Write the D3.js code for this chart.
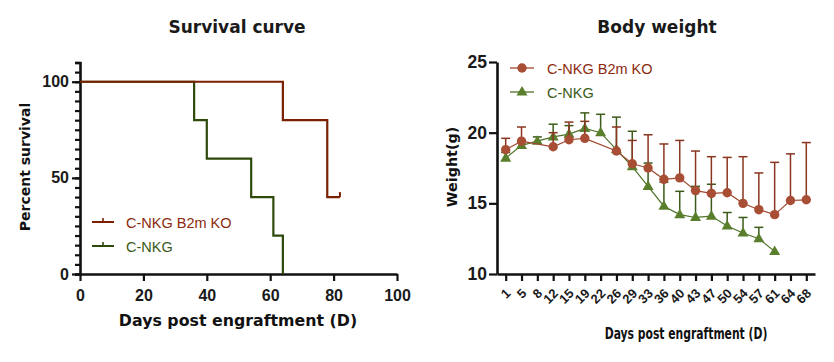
<!DOCTYPE html>
<html>
<head>
<meta charset="utf-8">
<script src="https://cdn.jsdelivr.net/npm/d3@7"></script>
<style>
  body { margin: 0; background: white; }
  svg text { font-family: "DejaVu Sans", Verdana, sans-serif; }
</style>
</head>
<body>
<div id="chart"></div>
<script>
// survival curve (Kaplan-Meier steps)
var koDays = [0, 64, 78, 82];
var koPct = [100, 80, 40, 40];
var nkgDays = [0, 36, 40, 54, 61, 64];
var nkgPct = [100, 80, 60, 40, 20, 0];
var survXTicks = [0, 20, 40, 60, 80, 100];
var survYTicks = [0, 50, 100];

// body weight, mean and SD (upper bars only)
var bwDays = ["1", "5", "8", "12", "15", "19", "22", "26", "29", "33", "36", "40", "43", "47", "50", "54", "57", "61", "64", "68"];
var koMean = [18.8, 19.4, null, 19.0, 19.5, 19.6, null, 18.7, 17.8, 17.5, 16.7, 16.8, 15.9, 15.7, 15.75, 15.0, 14.55, 14.2, 15.2, 15.25];
var koSD = [0.8, 1.0, null, 1.0, 1.25, 1.2, null, 1.7, 1.65, 2.35, 2.5, 2.65, 2.8, 2.6, 2.5, 3.3, 2.6, 3.7, 3.3, 4.05];
var nkgMean = [18.2, 19.1, 19.4, 19.7, 19.9, 20.3, 20.0, 18.8, 17.6, 16.2, 14.8, 14.2, 14.0, 14.1, 13.4, 12.9, 12.5, 11.6, null, null];
var nkgSD = [0.4, 0.3, 0.3, 0.9, 0.6, 1.1, 1.3, 2.3, 2.5, 1.65, 1.7, 1.65, 2.2, 2.25, 0.95, 1.1, 0.8, null, null, null];
var bwYTicks = [10, 15, 20, 25];

var koName = "C-NKG B2m KO", nkgName = "C-NKG";

var tickFont = "'Liberation Sans', Arial, sans-serif";

var svg = d3.select("#chart").append("svg")
  .attr("width", 834).attr("height", 362);

function styleAxis(g, fontSize) {
  g.select(".domain").attr("stroke", "#111").attr("stroke-width", 2.6);
  g.selectAll(".tick line").attr("stroke", "#111").attr("stroke-width", 2.2);
  g.selectAll(".tick text").attr("fill", "#1a1a1a")
    .style("font-family", tickFont)
    .style("font-size", fontSize + "px").style("font-weight", "bold");
}

// ---------- left: survival curve ----------
var sx = d3.scaleLinear().domain([0, 100]).range([80, 397]);
var sy = d3.scaleLinear().domain([0, 110]).range([274, 62.5]);

var left = svg.append("g");

left.append("text").attr("x", 237).attr("y", 33).attr("text-anchor", "middle")
  .style("font-size", "17px").style("font-weight", "bold").attr("fill", "#1a1a1a")
  .text("Survival curve");

// minor y ticks every 5
left.append("g").attr("transform", "translate(80,0)")
  .call(d3.axisLeft(sy).tickValues(d3.range(0, 111, 5)).tickSize(5).tickFormat(""))
  .call(function(g) { styleAxis(g, 16); });
left.append("g").attr("transform", "translate(80,0)")
  .call(d3.axisLeft(sy).tickValues(survYTicks).tickSize(8).tickPadding(3).tickSizeOuter(0))
  .call(function(g) { styleAxis(g, 16); g.select(".domain").remove(); });

left.append("g").attr("transform", "translate(0,274)")
  .call(d3.axisBottom(sx).tickValues(survXTicks).tickSize(7).tickPadding(9).tickSizeOuter(0))
  .call(function(g) { styleAxis(g, 16); });

left.append("text").attr("x", 238).attr("y", 326).attr("text-anchor", "middle")
  .style("font-size", "15.8px").style("font-weight", "bold").attr("fill", "#111")
  .text("Days post engraftment (D)");

left.append("text").attr("transform", "translate(30,167) rotate(-90)").attr("text-anchor", "middle")
  .style("font-size", "14px").style("font-weight", "bold").attr("fill", "#111")
  .text("Percent survival");

var step = d3.line().curve(d3.curveStepAfter)
  .x(function(d) { return sx(d[0]); })
  .y(function(d) { return sy(d[1]); });

var koSteps = d3.zip(koDays, koPct);
var nkgSteps = d3.zip(nkgDays, nkgPct);

left.append("path").datum(nkgSteps).attr("d", step)
  .attr("fill", "none").attr("stroke", "#2e4a0b").attr("stroke-width", 2.2);
left.append("path").datum(koSteps).attr("d", step)
  .attr("fill", "none").attr("stroke", "#7a2000").attr("stroke-width", 2.2);

// censor mark at the end of KO curve
var lastKO = koSteps[koSteps.length - 1];
left.append("line")
  .attr("x1", sx(lastKO[0])).attr("x2", sx(lastKO[0]))
  .attr("y1", sy(lastKO[1])).attr("y2", sy(lastKO[1]) - 5)
  .attr("stroke", "#7a2000").attr("stroke-width", 2);

var survLegend = [
  { name: koName, line: "#7a2000", text: "#8b2b0e" },
  { name: nkgName, line: "#2e4a0b", text: "#3a5a18" }
];
var sl = left.selectAll(".sleg").data(survLegend).enter().append("g")
  .attr("transform", function(d, i) { return "translate(92," + (222 + i * 24) + ")"; });
sl.append("line").attr("x1", 0).attr("x2", 22).attr("stroke", function(d) { return d.line; }).attr("stroke-width", 2);
sl.append("line").attr("x1", 11).attr("x2", 11).attr("y1", 0).attr("y2", -4)
  .attr("stroke", function(d) { return d.line; }).attr("stroke-width", 1.6);
sl.append("text").attr("x", 34).attr("y", 5.5)
  .style("font-family", tickFont).style("font-size", "14.5px")
  .attr("fill", function(d) { return d.text; }).text(function(d) { return d.name; });

// ---------- right: body weight ----------
var bx = d3.scalePoint().domain(bwDays).range([497, 815]).padding(0.55);
var by = d3.scaleLinear().domain([10, 25]).range([274, 62]);

var right = svg.append("g");

right.append("text").attr("x", 657).attr("y", 33).attr("text-anchor", "middle")
  .style("font-size", "17px").style("font-weight", "bold").attr("fill", "#1a1a1a")
  .text("Body weight");

right.append("g").attr("transform", "translate(497,0)")
  .call(d3.axisLeft(by).tickValues(bwYTicks).tickSize(8).tickPadding(2).tickSizeOuter(0))
  .call(function(g) { styleAxis(g, 17.5); });

right.append("g").attr("transform", "translate(0,274)")
  .call(d3.axisBottom(bx).tickSize(7).tickSizeOuter(0))
  .call(function(g) {
    styleAxis(g, 13);
    g.selectAll(".tick text")
      .attr("x", 0).attr("y", 0).attr("dy", "0.35em")
      .attr("text-anchor", "end")
      .attr("transform", "translate(2,17) rotate(-45)");
  });

// this title is horizontally squeezed in the original figure
right.append("text").attr("transform", "translate(686,339) scale(0.72,1)").attr("text-anchor", "middle")
  .style("font-size", "15px").style("font-weight", "bold").attr("fill", "#111")
  .text("Days post engraftment (D)");

right.append("text").attr("transform", "translate(457,167) rotate(-90)").attr("text-anchor", "middle")
  .style("font-size", "14.3px").style("font-weight", "bold").attr("fill", "#111")
  .text("Weight(g)");

function seriesRows(mean, sd) {
  return bwDays.map(function(d, i) { return { day: d, mean: mean[i], sd: sd[i] }; })
    .filter(function(r) { return r.mean !== null; });
}
var koRows = seriesRows(koMean, koSD);
var nkgRows = seriesRows(nkgMean, nkgSD);

var bwLine = d3.line()
  .x(function(d) { return bx(d.day); })
  .y(function(d) { return by(d.mean); });

function drawSeries(rows, lineColor, barColor, drawMarker) {
  var g = right.append("g");
  g.append("path").datum(rows).attr("d", bwLine)
    .attr("fill", "none").attr("stroke", lineColor).attr("stroke-width", 1.2);
  var bars = g.selectAll(".bar").data(rows.filter(function(r) { return r.sd !== null; }))
    .enter().append("g");
  bars.append("line")
    .attr("x1", function(d) { return bx(d.day); }).attr("x2", function(d) { return bx(d.day); })
    .attr("y1", function(d) { return by(d.mean); }).attr("y2", function(d) { return by(d.mean + d.sd); })
    .attr("stroke", barColor).attr("stroke-width", 1.5);
  bars.append("line")
    .attr("x1", function(d) { return bx(d.day) - 4.5; }).attr("x2", function(d) { return bx(d.day) + 4.5; })
    .attr("y1", function(d) { return by(d.mean + d.sd); }).attr("y2", function(d) { return by(d.mean + d.sd); })
    .attr("stroke", barColor).attr("stroke-width", 1.5);
  g.selectAll(".pt").data(rows).enter().append("g")
    .attr("transform", function(d) { return "translate(" + bx(d.day) + "," + by(d.mean) + ")"; })
    .each(function() { drawMarker(d3.select(this)); });
}

function triangle(sel) {
  sel.append("path").attr("d", "M0,-6L5.5,3.6L-5.5,3.6Z").attr("fill", "#5a7f2c");
}
function circle(sel) {
  sel.append("circle").attr("r", 4.7).attr("fill", "#a84e35");
}

drawSeries(nkgRows, "#4f7228", "#3c5a18", triangle);
drawSeries(koRows, "#a0472f", "#8a3520", circle);

var bwLegend = [
  { name: koName, line: "#a0472f", text: "#8b2b0e", marker: circle },
  { name: nkgName, line: "#4f7228", text: "#3a5a18", marker: triangle }
];
var bl = right.selectAll(".bleg").data(bwLegend).enter().append("g")
  .attr("transform", function(d, i) { return "translate(510," + (68 + i * 24) + ")"; });
bl.append("line").attr("x1", 0).attr("x2", 24).attr("stroke", function(d) { return d.line; }).attr("stroke-width", 1.3);
bl.append("g").attr("transform", "translate(12,0)").each(function(d) { d.marker(d3.select(this)); });
bl.append("text").attr("x", 37).attr("y", 5.5)
  .style("font-family", tickFont).style("font-size", "14.5px")
  .attr("fill", function(d) { return d.text; }).text(function(d) { return d.name; });
</script>
</body>
</html>
